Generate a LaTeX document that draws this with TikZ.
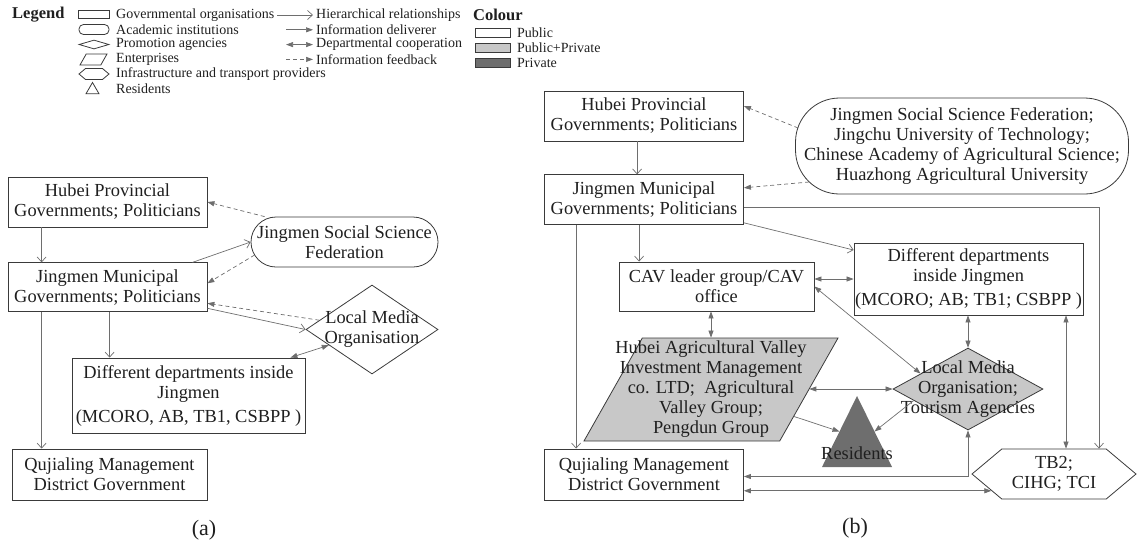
\documentclass[tikz,border=0pt]{standalone}
\usepackage{fontspec}
\setmainfont{Liberation Serif}
\usetikzlibrary{positioning,calc,shapes.geometric,shapes.symbols,arrows.meta}
\definecolor{framegray}{HTML}{3A3A3A}
\definecolor{edgegray}{HTML}{6E6E6E}
\definecolor{lightfill}{HTML}{C8C8C8}
\definecolor{darkfill}{HTML}{6E6E6E}
\tikzset{
  txt/.style={font=\fontsize{18.4}{20}\selectfont, align=center, text=black!88},
  captxt/.style={font=\fontsize{22}{24}\selectfont, text=black!88},
  lgtxt/.style={font=\fontsize{14}{15}\selectfont, anchor=west, inner sep=0pt, text=black!88},
  lghead/.style={lgtxt, font=\fontsize{16.5}{17}\selectfont\bfseries},
  shp/.style={draw=framegray, line width=0.8pt},
  govbox/.style={shp, txt, rectangle, inner sep=1pt},
  acadbox/.style={shp, txt, rectangle, rounded corners=#1, inner sep=1pt},
  promo/.style={shp, diamond, inner sep=0pt},
  enterp/.style={shp, trapezium, trapezium left angle=67, trapezium right angle=113, trapezium stretches, inner sep=1pt},
  infra/.style={shp, signal, signal to=east and west, signal pointer angle=80, inner sep=0pt},
  resid/.style={shp, regular polygon, regular polygon sides=3, inner sep=0pt},
  pubpriv/.style={fill=lightfill},
  priv/.style={fill=darkfill},
  conn/.style={draw=edgegray, line width=0.7pt},
  hier/.style={conn, -{Straight Barb[length=5pt,width=9pt]}},
  inform/.style={conn, -{Triangle[length=7pt,width=5pt]}},
  coop/.style={conn, {Triangle[length=7pt,width=5pt]}-{Triangle[length=7pt,width=5pt]}},
  feedback/.style={conn, dash pattern=on 4pt off 3pt, -{Triangle[length=7pt,width=5pt]}},
}
\begin{document}
\begin{tikzpicture}[x=1pt, y=-1pt]
\useasboundingbox (0,0) rectangle (1137,542);
\node[lghead] (lgHead) at (12,15) {Legend};
\node[shp, rectangle, minimum width=31pt, minimum height=8pt, inner sep=0pt] (lgGov) at (94,14) {};
\node[shp, rectangle, rounded corners=4.5pt, minimum width=30pt, minimum height=10pt, inner sep=0pt] (lgAca) at (94,29.5) {};
\node[promo, minimum width=30pt, minimum height=9pt] (lgPro) at (94,44.5) {};
\node[enterp, minimum width=27pt, minimum height=11pt] (lgEnt) at (93.5,59.5) {};
\node[infra, minimum width=30pt, minimum height=11pt] (lgInf) at (94,74) {};
\node[resid, minimum size=15pt] (lgRes) at (92.5,90) {};
\node[lgtxt] (lgGovT) at (116,15) {Governmental organisations};
\node[lgtxt] (lgAcaT) at (116,29.8) {Academic institutions};
\node[lgtxt] (lgProT) at (116,44.6) {Promotion agencies};
\node[lgtxt] (lgEntT) at (116,59.4) {Enterprises};
\node[lgtxt] (lgInfT) at (116,74.2) {Infrastructure and transport providers};
\node[lgtxt] (lgResT) at (116,89) {Residents};
\coordinate (hierS) at (277,15); \coordinate (hierE) at (313,15);
\coordinate (infoS) at (286,29.8); \coordinate (infoE) at (313,29.8);
\coordinate (coopS) at (286,44.6); \coordinate (coopE) at (313,44.6);
\coordinate (backS) at (286,59.4); \coordinate (backE) at (313,59.4);
\draw[hier] (hierS) -- (hierE);
\draw[inform] (infoS) -- (infoE);
\draw[coop] (coopS) -- (coopE);
\draw[feedback] (backS) -- (backE);
\node[lgtxt] (hierT) at (316,15) {Hierarchical relationships};
\node[lgtxt] (infoT) at (316,29.8) {Information deliverer};
\node[lgtxt] (coopT) at (316,44.6) {Departmental cooperation};
\node[lgtxt] (backT) at (316,59.4) {Information feedback};
\node[lghead] (colHead) at (473,15) {Colour};
\node[shp, minimum width=35pt, minimum height=9pt, inner sep=0pt] (colPub) at (492.5,33) {};
\node[shp, pubpriv, minimum width=35pt, minimum height=9pt, inner sep=0pt] (colMix) at (492.5,48) {};
\node[shp, priv, minimum width=35pt, minimum height=9pt, inner sep=0pt] (colPriv) at (492.5,63) {};
\node[lgtxt] (colPubT) at (517,33) {Public};
\node[lgtxt] (colMixT) at (517,48) {Public+Private};
\node[lgtxt] (colPrivT) at (517,63) {Private};

\node[govbox, minimum width=199pt, minimum height=50pt] (hubA) at (107.5,202) {Hubei Provincial\\Governments; Politicians};
\node[govbox, minimum width=199pt, minimum height=49pt, below=35pt of hubA] (jmA) {Jingmen Municipal\\Governments; Politicians};
\node[acadbox=25pt, minimum width=187pt, minimum height=50pt] (jssfA) at (344.5,242) {Jingmen Social Science\\Federation};
\node[promo, minimum width=132pt, minimum height=89pt, label={[txt]center:{Local Media\\Organisation}}] (lmoA) at (372,329.5) {};
\node[govbox, minimum width=233pt, minimum height=75pt] (ddA) at (188.5,395.5) {Different departments inside\\Jingmen\\[4pt](MCORO, AB, TB1, CSBPP )};
\node[govbox, minimum width=195pt, minimum height=51pt] (qjA) at (109.5,474.5) {Qujialing Management\\District Government};
\node[captxt] (capA) at (204,530) {(a)};
\draw[hier] ([xshift=34pt]hubA.south west) -- ([xshift=34pt]jmA.north west);
\draw[hier] ([xshift=34pt]jmA.south west) -- ([xshift=34pt]jmA.south west |- qjA.north);
\draw[hier] ([xshift=102pt]jmA.south west) -- ([xshift=102pt]jmA.south west |- ddA.north);
\draw[hier] ([xshift=-15pt]jmA.north east) -- (jssfA.west);
\draw[feedback] ([xshift=14pt]jssfA.north west) -- (hubA.east);
\draw[feedback] ([shift={(4,13)}]jssfA.west) -- ([shift={(0,-4)}]jmA.east);
\draw[feedback] (lmoA.170) -- ([shift={(0,16)}]jmA.east);
\draw[hier] ([shift={(0,21)}]jmA.east) -- (lmoA.west);
\draw[coop] ([xshift=-15pt]ddA.north east) -- (lmoA.200);

\node[govbox, minimum width=199pt, minimum height=50pt] (hubB) at (644,116) {Hubei Provincial\\Governments; Politicians};
\node[govbox, minimum width=199pt, minimum height=50pt, below=33pt of hubB] (jmB) {Jingmen Municipal\\Governments; Politicians};
\node[acadbox=44pt, minimum width=333pt, minimum height=96pt] (acB) at (962,146) {Jingmen Social Science Federation;\\Jingchu University of Technology;\\Chinese Academy of Agricultural Science;\\Huazhong Agricultural University};
\node[govbox, minimum width=195pt, minimum height=49pt] (cavB) at (716.5,286.5) {CAV leader group/CAV\\office};
\node[govbox, minimum width=223pt, minimum height=72pt] (ddB) at (968.5,279) {Different departments\\inside Jingmen\\[4pt](MCORO; AB; TB1; CSBPP )};
\node[enterp, pubpriv, minimum width=254pt, minimum height=103pt, label={[txt]center:{Hubei Agricultural Valley\\Investment Management\\co. LTD;\ \ Agricultural\\Valley Group;\\Pengdun Group}}] (avB) at (711,389.5) {};
\node[promo, pubpriv, minimum width=150pt, minimum height=82pt, label={[txt]center:{Local Media\\Organisation;\\Tourism Agencies}}] (lmoB) at (968,389) {};
\coordinate (resL) at (822,467);
\coordinate (resT) at (857,396);
\coordinate (resR) at (892,467);
\fill[darkfill] (resL) -- (resT) -- (resR) -- cycle;
\node[txt] (resB) at (857,453) {Residents};
\node[govbox, minimum width=199pt, minimum height=51pt] (qjB) at (644,474.5) {Qujialing Management\\District Government};
\node[infra, txt, minimum width=164pt, minimum height=50pt] (tbB) at (1054,474) {TB2;\\CIHG; TCI};
\node[captxt] (capB) at (855,528) {(b)};
\draw[hier] ([xshift=93pt]hubB.south west) -- ([xshift=93pt]jmB.north west);
\draw[feedback] ([shift={(3,-18)}]acB.west) -- ([shift={(0,-10)}]hubB.east);
\draw[feedback] ([shift={(14,36)}]acB.west) -- ([shift={(0,-12)}]jmB.east);
\draw[hier] ([shift={(0,8)}]jmB.east) -| ([xshift=45pt]tbB.north);
\draw[hier] ([shift={(0,23)}]jmB.east) -- ([shift={(0,-29)}]ddB.west);
\draw[hier] ([xshift=32pt]jmB.south west) -- ([xshift=32pt]jmB.south west |- qjB.north);
\draw[hier] ([xshift=95pt]jmB.south west) -- ([xshift=95pt]jmB.south west |- cavB.north);
\draw[coop] (cavB.east |- ddB.west) -- (ddB.west);
\draw[coop] (cavB.east) -- (lmoB.162);
\draw[coop] (avB.north |- cavB.south) -- (avB.north);
\draw[coop] (avB.0 |- lmoB.west) -- (lmoB.west);
\draw[inform] (avB.-18) -- ($(resT)!0.5!(resL)$);
\draw[inform] (lmoB.192) -- ($(resT)!0.5!(resR)$);
\draw[coop] ([shift={(0,2)}]qjB.east) -| (lmoB.south);
\draw[coop] (qjB.east |- tbB.195) -- (tbB.195);
\draw[coop] (ddB.south -| lmoB.north) -- (lmoB.north);
\draw[coop] ([xshift=12pt]tbB.north |- ddB.south) -- ([xshift=12pt]tbB.north);
\end{tikzpicture}
\end{document}
